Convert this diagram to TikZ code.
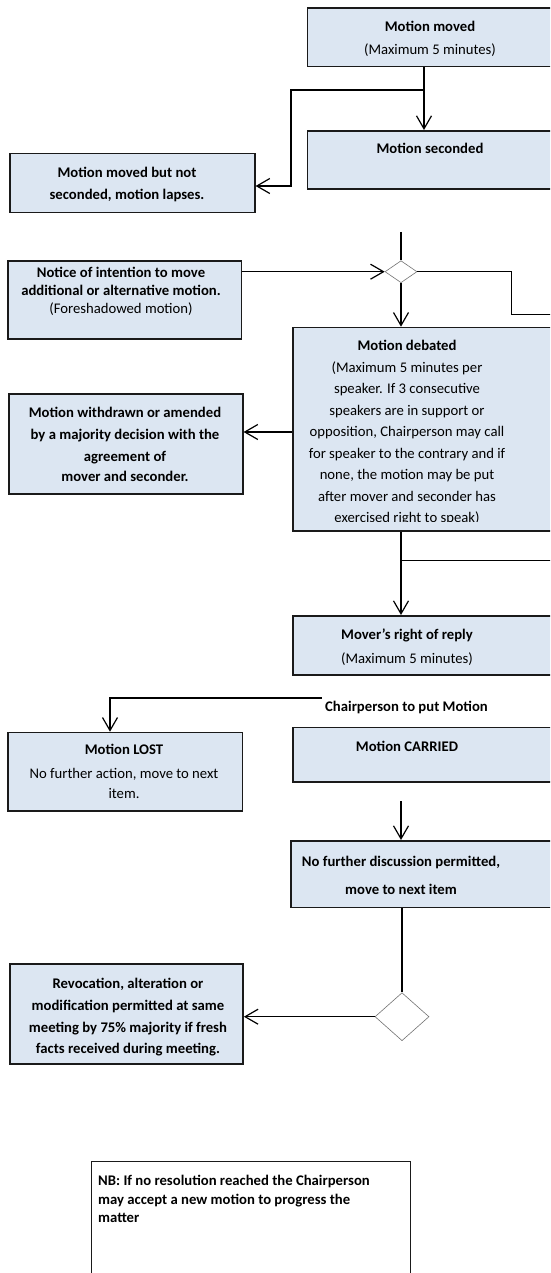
\documentclass[tikz,border=0pt]{standalone}
\usepackage{fontspec}
\setmainfont{Carlito}
\usetikzlibrary{arrows.meta,shapes.geometric}
\definecolor{boxblue}{HTML}{DCE6F2}
\definecolor{edge}{HTML}{1A1A1A}
\begin{document}
\begin{tikzpicture}[x=1pt,y=-1pt,
  box/.style={draw=edge, line width=1.6pt, fill=boxblue, inner sep=0pt, anchor=north west},
  note/.style={draw=edge, line width=1.2pt, fill=white, inner sep=0pt, anchor=north west},
  dec/.style={diamond, draw=black!55, line width=0.6pt, fill=white, inner sep=0pt},
  ln/.style={line width=1.2pt, draw=black},
  conn/.style={ln, -{Straight Barb[length=13pt,width=15pt]}},
  tx/.style={anchor=base, inner sep=0pt, font=\fontsize{14.7}{17}\selectfont},
  tb/.style={tx, font=\fontsize{14.7}{17}\selectfont\bfseries},
  tbl/.style={tb, anchor=base west}]
\useasboundingbox (0,0) rectangle (550,1273);
\clip (0,0) rectangle (550,1273);
\fill[white] (0,0) rectangle (550,1273);

% ---- boxes ----
\node[box, minimum width=253.3pt, minimum height=58.4pt] (moved) at (306.7,7.3) {};
\node[box, minimum width=253.3pt, minimum height=58pt] (seconded) at (306.7,130) {};
\node[box, minimum width=245pt, minimum height=59pt] (lapses) at (9,152.7) {};
\node[box, minimum width=233.4pt, minimum height=78.3pt] (notice) at (7.3,260) {};
\node[box, minimum width=268pt, minimum height=203.3pt] (debated) at (292,326.7) {};
\node[box, minimum width=234pt, minimum height=100pt] (withdrawn) at (8,393) {};
\node[box, minimum width=268pt, minimum height=59pt] (mover) at (292,615) {};
\node[box, minimum width=234.4pt, minimum height=78.3pt] (lost) at (7.3,731.7) {};
\node[box, minimum width=268pt, minimum height=54.3pt] (carried) at (292,726.7) {};
\node[box, minimum width=270pt, minimum height=66.7pt] (nofurther) at (290,840) {};
\node[box, minimum width=233.3pt, minimum height=100pt] (revocation) at (9,963.3) {};
\node[note, minimum width=319pt, minimum height=130pt] (nb) at (91,1160.7) {};

% ---- decision diamonds ----
\node[dec, minimum width=32pt, minimum height=22pt] (d1) at (401,271.7) {};
\node[dec, minimum width=54pt, minimum height=48pt] (d2) at (402,1016.7) {};

% ---- texts ----
\node[tb] (t-moved1) at (430,31.4) {Motion moved};
\node[tx] (t-moved2) at (430,54.7) {(Maximum 5 minutes)};
\node[tb] (t-sec) at (430,153.7) {Motion seconded};
\node[tb] (t-lap1) at (127,177.4) {Motion moved but not};
\node[tb] (t-lap2) at (127,199.7) {seconded, motion lapses.};
\node[tb] (t-not1) at (121,277.4) {Notice of intention to move};
\node[tb] (t-not2) at (121,295.4) {additional or alternative motion.};
\node[tx] (t-not3) at (121,313) {(Foreshadowed motion)};
\begin{scope}
  \clip (debated.north west) rectangle (560,521);
  \node[tb] (t-deb1) at (407,350.7) {Motion debated};
  \node[tx] (t-deb2) at (407,372.2) {(Maximum 5 minutes per};
  \node[tx] (t-deb3) at (407,393.7) {speaker. If 3 consecutive};
  \node[tx] (t-deb4) at (407,415.2) {speakers are in support or};
  \node[tx] (t-deb5) at (407,436.7) {opposition, Chairperson may call};
  \node[tx] (t-deb6) at (407,458.2) {for speaker to the contrary and if};
  \node[tx] (t-deb7) at (407,479.7) {none, the motion may be put};
  \node[tx] (t-deb8) at (407,501.2) {after mover and seconder has};
  \node[tx] (t-deb9) at (407,522.7) {exercised right to speak)};
\end{scope}
\node[tb] (t-wd1) at (125,417.4) {Motion withdrawn or amended};
\node[tb] (t-wd2) at (125,439.7) {by a majority decision with the};
\node[tb] (t-wd3) at (125,461.4) {agreement of};
\node[tb] (t-wd4) at (125,481.4) {mover and seconder.};
\node[tb] (t-mov1) at (407,639.7) {Mover’s right of reply};
\node[tx] (t-mov2) at (407,663.7) {(Maximum 5 minutes)};
\node[tbl] (chair) at (325,711.4) {Chairperson to put Motion};
\node[tb] (t-lost1) at (124,754.7) {Motion LOST};
\node[tx] (t-lost2) at (124,778) {No further action, move to next};
\node[tx] (t-lost3) at (124,798) {item.};
\node[tb] (t-car) at (407,751.4) {Motion CARRIED};
\node[tb] (t-nf1) at (401,866.4) {No further discussion permitted,};
\node[tb] (t-nf2) at (401,894.7) {move to next item};
\node[tb] (t-rev1) at (128,988) {Revocation, alteration or};
\node[tb] (t-rev2) at (128,1010.7) {modification permitted at same};
\node[tb] (t-rev3) at (128,1032.4) {meeting by 75\% majority if fresh};
\node[tb] (t-rev4) at (128,1053) {facts received during meeting.};
\node[tbl] (t-nb1) at (98,1185.7) {NB: If no resolution reached the Chairperson};
\node[tbl] (t-nb2) at (98,1204) {may accept a new motion to progress the};
\node[tbl] (t-nb3) at (98,1222.4) {matter};

% ---- connector routing points ----
\coordinate (jm) at (424,90);
\coordinate (kl) at (291,186);
\coordinate (top) at (401,232);
\coordinate (r1) at (511.7,314.3);
\coordinate (r1end) at (560,314.3);
\coordinate (aw) at (0,432);
\coordinate (cx) at (401,560.7);
\coordinate (cxend) at (560,560.7);
\coordinate (ch) at (321.7,698);
\coordinate (lostx) at (110,698);
\coordinate (cf) at (401,801);

% ---- connectors ----
\draw[conn] (jm |- moved.south) -- (jm |- seconded.north);
\draw[conn] (jm) -| (kl) -- (kl -| lapses.east);
\draw[ln] (top) -- (d1.north);
\draw[conn] (notice.east |- d1.west) -- (d1.west);
\draw[ln] (d1.east) -| (r1) -- (r1end);
\draw[conn] (d1.south) -- (d1.south |- debated.north);
\draw[conn] (debated.west |- aw) -- (withdrawn.east |- aw);
\draw[conn] (cx |- debated.south) -- (cx |- mover.north);
\draw[ln] (cx) -- (cxend);
\draw[conn] (ch) -- (lostx) -- (lostx |- lost.north);
\draw[conn] (cf) -- (cf |- nofurther.north);
\draw[ln] (d2.north |- nofurther.south) -- (d2.north);
\draw[conn] (d2.west) -- (d2.west -| revocation.east);
\end{tikzpicture}
\end{document}
